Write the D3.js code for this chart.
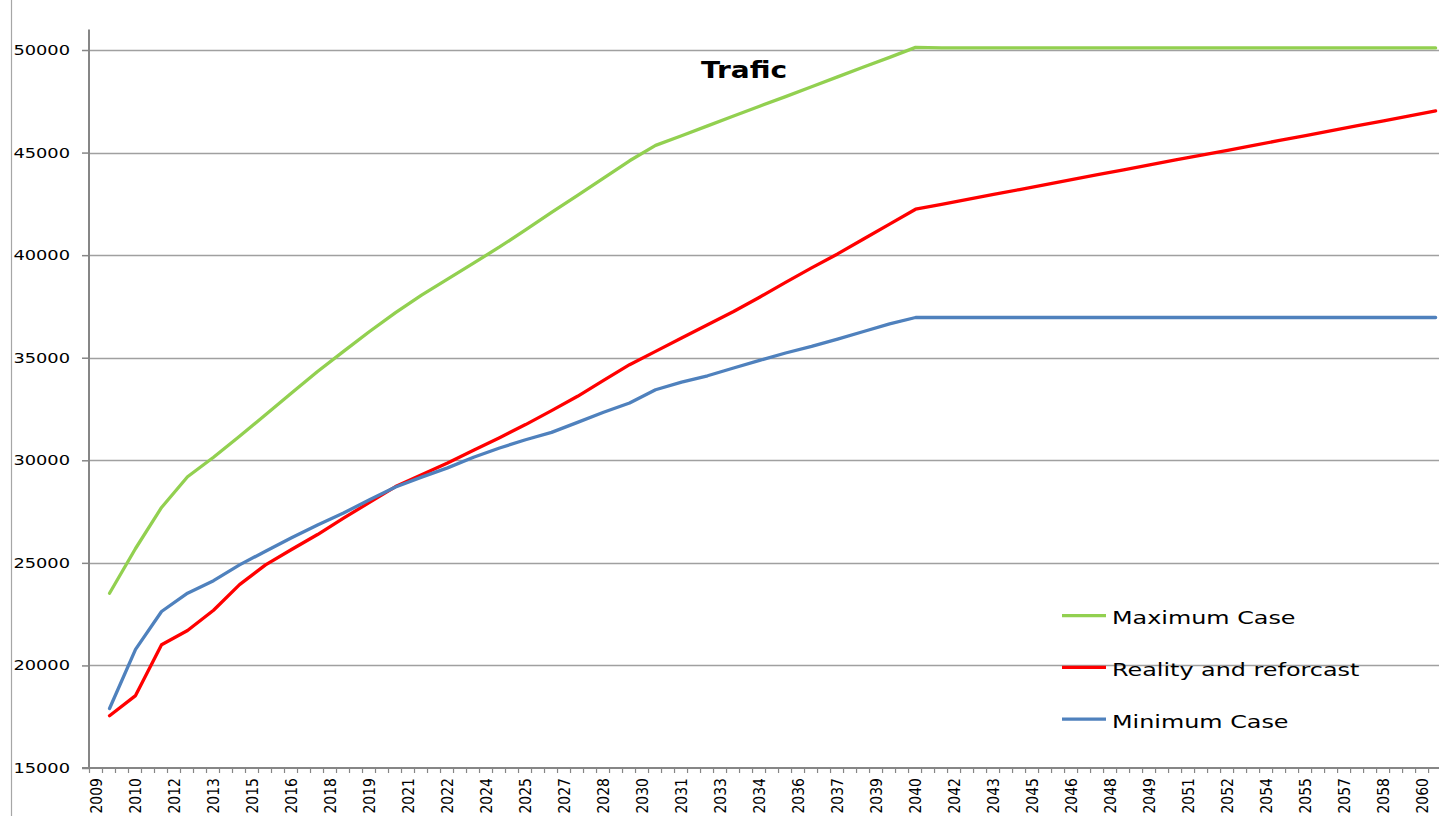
<!DOCTYPE html>
<html>
<head>
<meta charset="utf-8">
<script src="https://cdn.jsdelivr.net/npm/d3@7"></script>
<style>
  html, body { margin: 0; padding: 0; background: #ffffff; }
  svg { display: block; }
  text { font-family: "DejaVu Sans", Verdana, sans-serif; fill: #000; }
</style>
</head>
<body>
<svg id="chart" width="1443" height="816"></svg>
<script>
// ---------- data ----------
const years = [2009,2010,2011,2012,2013,2014,2015,2016,2017,2018,2019,2020,2021,2022,2023,2024,2025,2026,
  2027,2028,2029,2030,2031,2032,2033,2034,2035,2036,2037,2038,2039,2040,2041,2042,2043,2044,2045,2046,
  2047,2048,2049,2050,2051,2052,2053,2054,2055,2056,2057,2058,2059,2060];

const maxCase = [23520,25700,27700,29200,30150,31170,32220,33280,34330,35310,36280,37200,38050,38830,
  39610,40400,41230,42080,42920,43760,44600,45350,45820,46300,46780,47260,47730,48210,48690,49170,49640,
  50130,50100,50100,50100,50100,50100,50100,50100,50100,50100,50100,50100,50100,50100,50100,50100,50100,
  50100,50100,50100,50100];

const reality = [17550,18530,21010,21700,22690,23940,24900,25650,26380,27180,27950,28720,29300,29870,
  30490,31100,31740,32420,33120,33900,34660,35310,35960,36610,37250,37950,38670,39380,40060,40790,41510,
  42240,42480,42720,42960,43200,43440,43680,43920,44160,44400,44640,44880,45110,45350,45590,45830,46070,
  46310,46550,46790,47030];

const minCase = [17900,20780,22630,23520,24130,24900,25570,26220,26850,27430,28080,28700,29180,29630,
  30150,30600,31000,31360,31850,32340,32790,33440,33810,34120,34500,34870,35230,35550,35910,36280,36650,
  36960,36960,36960,36960,36960,36960,36960,36960,36960,36960,36960,36960,36960,36960,36960,36960,36960,
  36960,36960,36960,36960];

const yTicks = [15000,20000,25000,30000,35000,40000,45000,50000];
const xTickLabels = ["2009","2010","2012","2013","2015","2016","2018","2019","2021","2022","2024","2025",
  "2027","2028","2030","2031","2033","2034","2036","2037","2039","2040","2042","2043","2045","2046",
  "2048","2049","2051","2052","2054","2055","2057","2058","2060"];

const seriesNames = ["Maximum Case", "Reality and reforcast", "Minimum Case"];
const seriesColors = ["#92D050", "#FF0000", "#4F81BD"];
const titleText = "Trafic";

// ---------- layout ----------
const svg = d3.select("#chart");
const plot = { left: 89, right: 1439, top: 29.5, bottom: 768 };

// time axis in decimal years; each yearly value sits at mid-year
const x = d3.scaleLinear().domain([2008.71, 2060.63]).range([plot.left, plot.right]);
const y = d3.scaleLinear().domain([15000, 51000]).range([plot.bottom, plot.top]);

// outer left border
svg.append("line")
  .attr("x1", 11.5).attr("x2", 11.5).attr("y1", 0).attr("y2", 816)
  .attr("stroke", "#a6a6a6").attr("stroke-width", 1.2);

// gridlines
svg.append("g").selectAll("line").data(yTicks.filter(d => d > 15000)).join("line")
  .attr("x1", plot.left).attr("x2", plot.right)
  .attr("y1", d => Math.round(y(d)) + 0.5).attr("y2", d => Math.round(y(d)) + 0.5)
  .attr("stroke", "#a0a0a0").attr("stroke-width", 1.3);

// y axis
const yAxis = d3.axisLeft(y).tickValues(yTicks).tickSize(7).tickFormat("");
const gy = svg.append("g").attr("transform", `translate(${plot.left},0)`).call(yAxis);
gy.select(".domain").attr("stroke", "#868686").attr("stroke-width", 2)
  .attr("d", `M0,${plot.top}V${plot.bottom}`);
gy.selectAll(".tick line").attr("stroke", "#868686").attr("stroke-width", 1.5);

svg.append("g").selectAll("text").data(yTicks).join("text")
  .attr("transform", d => `translate(70,${y(d)}) scale(1.27,1)`)
  .attr("dy", "0.36em")
  .attr("text-anchor", "end").attr("font-size", 14)
  .text(d => d);

// x axis with half-year minor ticks
const minorTicks = d3.range(x.domain()[0], x.domain()[1] + 0.01, 0.5);
const xAxis = d3.axisBottom(x).tickValues(minorTicks).tickSize(5).tickFormat("");
const gx = svg.append("g").attr("transform", `translate(0,${plot.bottom})`).call(xAxis);
gx.select(".domain").attr("stroke", "#868686").attr("stroke-width", 2)
  .attr("d", `M${plot.left - 7},0H${plot.right}`);
gx.selectAll(".tick line").attr("stroke", "#868686").attr("stroke-width", 1.2);

const xLabelPos = xTickLabels.map((lab, i) => 2009 + 1.5 * i);
svg.append("g").selectAll("text").data(xTickLabels).join("text")
  .attr("transform", (d, i) => `translate(${x(xLabelPos[i])},778) scale(1.15,1) rotate(-90)`)
  .attr("text-anchor", "end").attr("dy", "0.36em").attr("font-size", 14)
  .text(d => d);

// series lines
const allSeries = [maxCase, reality, minCase];
const line = d3.line()
  .x((d, i) => x(years[i] + 0.5))
  .y(d => y(d));

svg.append("g").selectAll("path").data(allSeries).join("path")
  .attr("d", d => line(d))
  .attr("fill", "none")
  .attr("stroke", (d, i) => seriesColors[i])
  .attr("stroke-width", 3.3)
  .attr("stroke-linejoin", "round")
  .attr("stroke-linecap", "round");

// title
svg.append("text")
  .attr("transform", "translate(744,78.3) scale(1.22,1)")
  .attr("text-anchor", "middle")
  .attr("font-size", 23).attr("font-weight", "bold")
  .text(titleText);

// legend
const lg = svg.append("g").selectAll("g").data(seriesNames).join("g")
  .attr("transform", (d, i) => `translate(1062,${615.7 + i * 51.7})`);
lg.append("line").attr("x1", 0).attr("x2", 44).attr("y1", 0).attr("y2", 0)
  .attr("stroke", (d, i) => seriesColors[i]).attr("stroke-width", 3.3);
lg.append("text")
  .attr("transform", "translate(50,8.4) scale(1.29,1)")
  .attr("font-size", 18.5).text(d => d);
</script>
</body>
</html>
